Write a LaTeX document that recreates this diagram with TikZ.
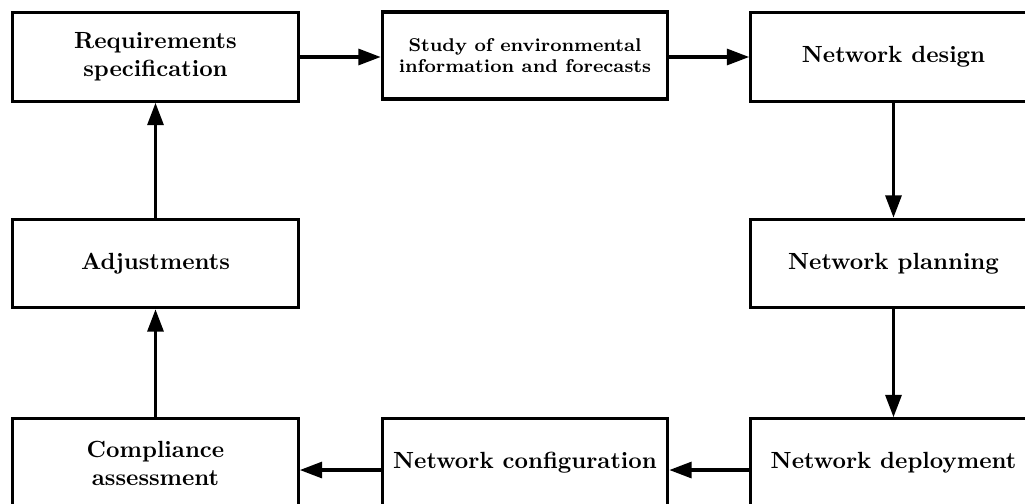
\documentclass[tikz,border=0pt]{standalone}
\usetikzlibrary{arrows.meta}
\begin{document}
\begin{tikzpicture}[x=0.4274pt, y=-0.4274pt,
  stage/.style={draw, line width=1.35pt, minimum width=122pt, minimum height=37.8pt,
                inner sep=2pt, align=center, font=\bfseries},
  flow/.style={line width=1.35pt, -{Triangle[length=9.5pt,width=6.8pt]}}]
  \useasboundingbox (0,0) rectangle (1025,503);
  \clip (0,0) rectangle (1025,503);

  % top row
  \node[stage] (req)    at (155.5,57)  {Requirements\\specification};
  \node[stage, minimum height=37.2pt, font=\bfseries\fontsize{7.9}{9.2}\selectfont]
       (study) at (525,55.5) {Study of environmental\\information and forecasts};
  \node[stage] (design) at (893.5,57)  {Network design};

  % middle row
  \node[stage] (adjust) at (155.5,263.5) {Adjustments};
  \node[stage] (plan)   at (893.5,263.5) {Network planning};

  % bottom row
  \node[stage] (comply) at (155.5,463) {Compliance\\assessment};
  \node[stage] (config) at (525,463)   {Network configuration};
  \node[stage] (deploy) at (893.5,463) {Network deployment};

  % process flow
  \draw[flow] (req.east) -- (req.east -| study.west);
  \draw[flow] (study.east |- design.west) -- (design.west);
  \draw[flow] (design) -- (plan);
  \draw[flow] (plan) -- (deploy);
  \draw[flow] ([yshift=-3pt]deploy.west) -- ([yshift=-3pt]config.east);
  \draw[flow] ([yshift=-3pt]config.west) -- ([yshift=-3pt]comply.east);
  \draw[flow] (comply) -- (adjust);
  \draw[flow] (adjust) -- (req);
\end{tikzpicture}
\end{document}
